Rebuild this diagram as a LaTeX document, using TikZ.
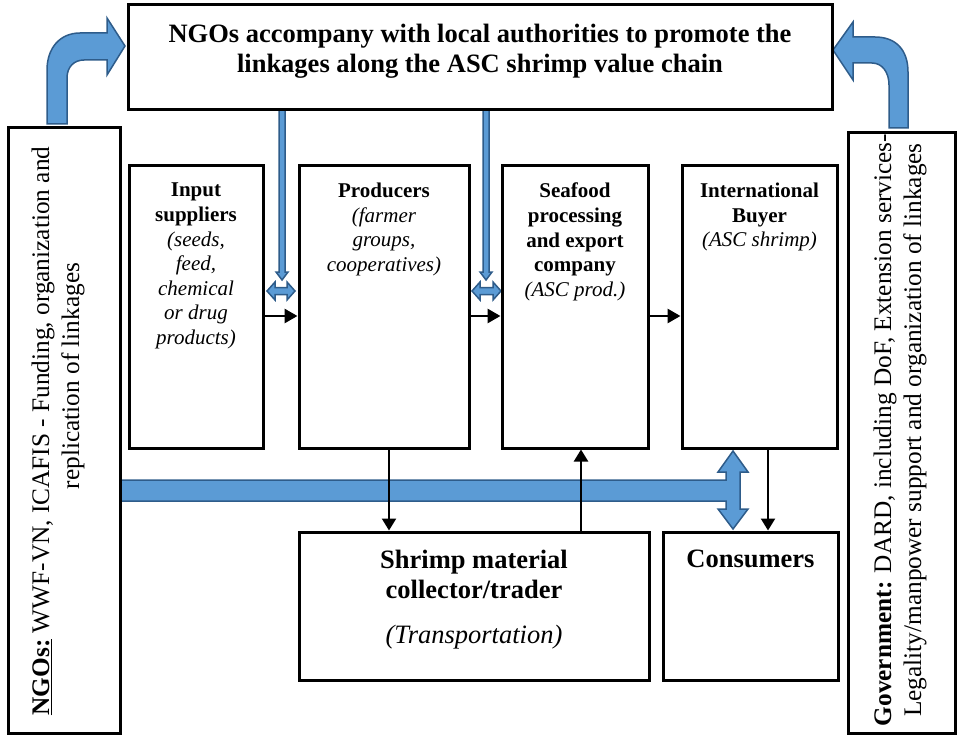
\documentclass[tikz,border=0pt]{standalone}
\usepackage{fontspec}
\setmainfont{Liberation Serif}
\usetikzlibrary{arrows.meta,calc}
\definecolor{bfill}{HTML}{5B9BD5}
\definecolor{bline}{HTML}{2E5C8A}
\newcommand\smallboxfont{\fontsize{21}{24.6}\selectfont}
\newcommand\largeboxfont{\fontsize{26.5}{30}\selectfont}
\newcommand\sideboxfont{\fontsize{25.3}{30}\selectfont}

\begin{document}
\begin{tikzpicture}[x=1pt,y=-1pt,
  frame/.style={draw=black, line width=3pt, inner sep=0pt},
  lbl/.style={align=center, inner sep=0pt, font=\smallboxfont},
  biglbl/.style={align=center, inner sep=0pt, font=\largeboxfont},
  sidelbl/.style={align=center, inner sep=0pt, font=\sideboxfont, rotate=90},
  blk/.style={fill=bfill, draw=bline, line width=1.5pt, line join=miter},
  flow/.style={line width=2.8pt, -{Triangle[length=13pt,width=14pt]}},
  flowthin/.style={line width=2.3pt, -{Triangle[length=12pt,width=14pt]}}
]
\useasboundingbox (0,0) rectangle (961,738);

% block arrows (drawn first, box borders sit on top of their ends)
% bent arrow rising from the NGO column into the top box
\path[blk] (47,124) -- (47,70) .. controls (47,48) and (60,33) .. (80,33)
  -- (107,33) -- (107,18) -- (125,46) -- (107,75) -- (107,60) -- (84,60)
  .. controls (74,60) and (67,67) .. (67,78) -- (67,124) -- cycle;
% bent arrow rising from the government column into the top box
\path[blk] (908,128) -- (908,72) .. controls (908,50) and (896,37) .. (875,37)
  -- (853,37) -- (853,22) -- (833,50) -- (853,80) -- (853,63) -- (872,63)
  .. controls (882,63) and (889,72) .. (889,85) -- (889,128) -- cycle;
% thin arrows from the top box down between the chain boxes
\path[blk] (279,110) -- (279,272) -- (276,272) -- (282,280) -- (288,272) -- (285,272) -- (285,110) -- cycle;
\path[blk] (483,110) -- (483,272) -- (480,272) -- (486,280) -- (492,272) -- (489,272) -- (489,110) -- cycle;
% small two-way arrows
\path[blk] (267,291) -- (275,282) -- (275,287.5) -- (287,287.5) -- (287,282) -- (295,291)
  -- (287,300) -- (287,294.5) -- (275,294.5) -- (275,300) -- cycle;
\path[blk] (472,291) -- (480,282) -- (480,287.5) -- (493,287.5) -- (493,282) -- (501,291)
  -- (493,300) -- (493,294.5) -- (480,294.5) -- (480,300) -- cycle;
% NGO band joining the two-way arrow between buyer and consumers
\path[blk] (120,480) -- (726,480) -- (726,472) -- (718,472) -- (733,451) -- (748,472)
  -- (740,472) -- (740,509) -- (748,509) -- (733,529) -- (718,509) -- (726,509)
  -- (726,501) -- (120,501) -- cycle;

% boxes
\node[frame, minimum width=704pt, minimum height=105pt] (top) at (480,57.5) {};
\node[frame, minimum width=112pt, minimum height=605pt] (ngo) at (64,430.5) {};
\node[frame, minimum width=107pt, minimum height=600pt] (gov) at (901.5,433) {};
\node[frame, minimum width=134pt, minimum height=282pt] (inp) at (196,307) {};
\node[frame, minimum width=170pt, minimum height=282pt] (prod) at (384,307) {};
\node[frame, minimum width=146pt, minimum height=282pt] (sea) at (575,307) {};
\node[frame, minimum width=155pt, minimum height=282pt] (buy) at (759.5,307) {};
\node[frame, minimum width=350pt, minimum height=148pt] (shr) at (474,606) {};
\node[frame, minimum width=175pt, minimum height=148pt] (con) at (750.5,606) {};

% texts
\node[biglbl, font=\largeboxfont\bfseries, anchor=north] (topT) at (480,24)
  {NGOs accompany with local authorities to promote the\\linkages along the ASC shrimp value chain};
\node[lbl, anchor=north] (inpT) at (196,183)
  {\textbf{Input}\\\textbf{suppliers}\\\textit{(seeds,}\\\textit{feed,}\\\textit{chemical}\\\textit{or drug}\\\textit{products)}};
\node[lbl, anchor=north] (prodT) at (384,183)
  {\textbf{Producers}\\\textit{(farmer}\\\textit{groups,}\\\textit{cooperatives)}};
\node[lbl, anchor=north] (seaT) at (575,183)
  {\textbf{Seafood}\\\textbf{processing}\\\textbf{and export}\\\textbf{company}\\\textit{(ASC prod.)}};
\node[lbl, anchor=north] (buyT) at (759.5,183)
  {\textbf{International}\\\textbf{Buyer}\\\textit{(ASC shrimp)}};
\node[biglbl, anchor=north] (shrT) at (474,550)
  {\textbf{Shrimp material}\\\textbf{collector/trader}\\[15pt]\textit{(Transportation)}};
\node[biglbl, anchor=north] (conT) at (750.5,550) {\textbf{Consumers}};
\node[sidelbl] (ngoT) at (58,431)
  {\underline{\textbf{NGOs:}} WWF-VN, ICAFIS - Funding, organization and\\\hspace*{110pt}replication of linkages};
\node[sidelbl] (govT) at (900,430)
  {\textbf{Government:} DARD, including DoF, Extension services-\\Legality/manpower support and organization of linkages};

% flows along the chain
\coordinate (rowA) at (0,316);
\coordinate (colA) at (389,0);
\coordinate (colB) at (581,0);
\coordinate (colC) at (768,0);
\draw[flow] (inp.east |- rowA) -- (prod.west |- rowA);
\draw[flow] (prod.east |- rowA) -- (sea.west |- rowA);
\draw[flow] (sea.east |- rowA) -- (buy.west |- rowA);
\draw[flowthin] (prod.south -| colA) -- (shr.north -| colA);
\draw[flowthin] (shr.north -| colB) -- (sea.south -| colB);
\draw[flowthin] (buy.south -| colC) -- (con.north -| colC);
\end{tikzpicture}
\end{document}
